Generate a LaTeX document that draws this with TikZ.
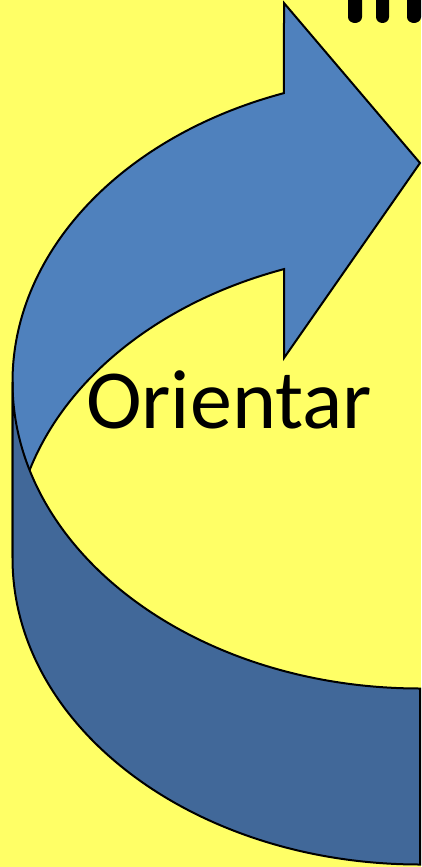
\documentclass[tikz,border=0pt]{standalone}
\usepackage{fontspec}
\setmainfont{Carlito}
\definecolor{bgyellow}{RGB}{255,255,102}
\definecolor{frontblue}{RGB}{79,129,189}
\definecolor{backblue}{RGB}{65,104,153}
\begin{document}
\begin{tikzpicture}[x=1pt,y=1pt,
  frontpart/.style={fill=frontblue,draw=black,line width=2pt,line join=miter},
  backpart/.style={fill=backblue,draw=black,line width=2pt,line join=miter},
  bar/.style={fill=black},
  label/.style={font=\fontsize{84}{84}\selectfont,text=black,inner sep=0pt}]
\fill[bgyellow] (0,0) rectangle (421,-867);
\useasboundingbox (0,0) rectangle (421,-867);
\begin{scope}
\clip (0,0) rectangle (421,-867);
% front (light) part with arrowhead
\draw[frontpart] (12.5,-382)
  arc[start angle=180, end angle=109.5, x radius=407.5, y radius=306.5]
  -- (284,-3) -- (420,-163) -- (284,-358) -- (284,-269.1)
  arc[start angle=109.5, end angle=180, x radius=407.5, y radius=306.5]
  -- cycle;
% back (dark) part
\draw[backpart] (12.5,-382) -- (12.5,-558)
  arc[start angle=180, end angle=270, x radius=407.5, y radius=306.5]
  -- (420,-688.5)
  arc[start angle=270, end angle=180, x radius=407.5, y radius=306.5]
  -- cycle;
% cut-off letter strokes at the top right
\fill[bar] (348,2) -- (348,-17) to[out=-90,in=180] (355,-23) to[out=0,in=-90] (362,-17) -- (362,2) -- cycle;
\fill[bar] (376,2) -- (376,-17) to[out=-90,in=180] (382.5,-23) to[out=0,in=-90] (389,-17) -- (389,2) -- cycle;
\fill[bar] (407,2) -- (407,-17) to[out=-90,in=180] (414,-23) to[out=0,in=-90] (421,-17) -- (423,2) -- cycle;
\end{scope}
\node[label,anchor=base] (orientar) at (229,-428) {Orientar};
\end{tikzpicture}
\end{document}
